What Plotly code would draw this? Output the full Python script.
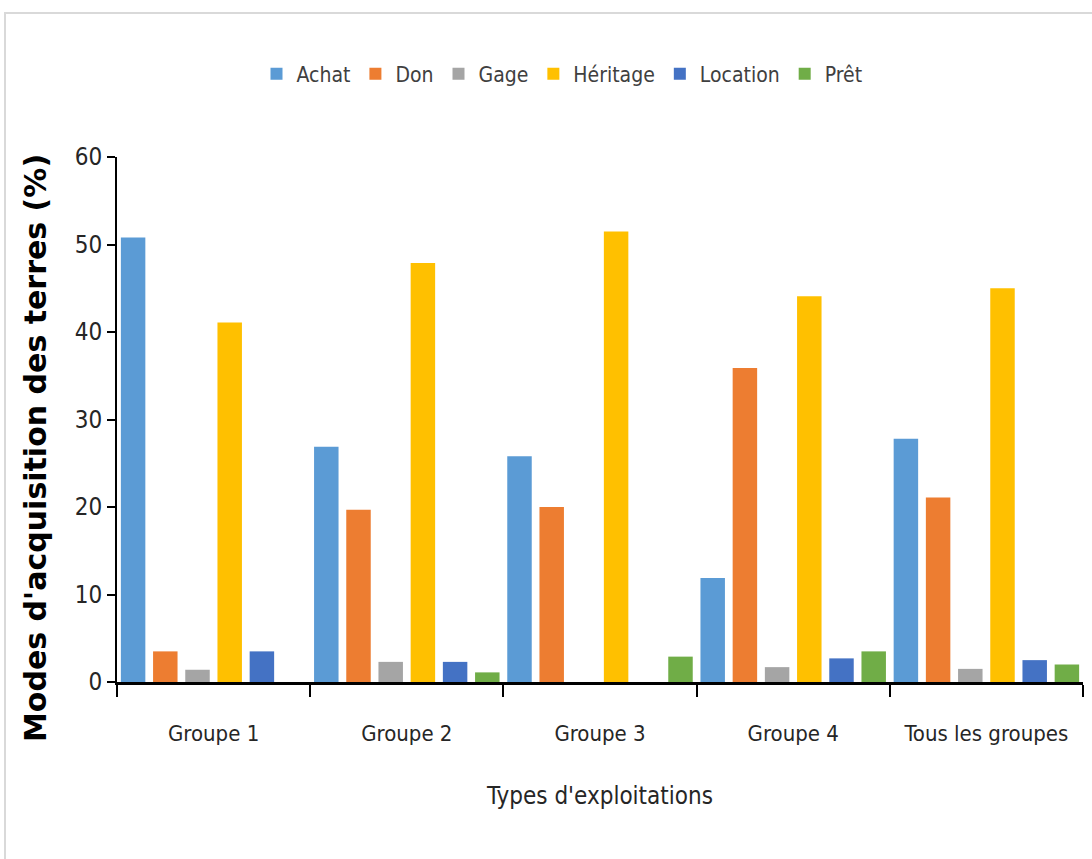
import plotly.graph_objects as go

# Types d'exploitations (x categories)
groupes = ["Groupe 1", "Groupe 2", "Groupe 3", "Groupe 4", "Tous les groupes"]

# Modes d'acquisition des terres (%), one list per mode
achat = [50.8, 26.9, 25.8, 11.9, 27.8]
don = [3.5, 19.7, 20.0, 35.9, 21.1]
gage = [1.4, 2.3, 0.0, 1.7, 1.5]
heritage = [41.1, 47.9, 51.5, 44.1, 45.0]
location = [3.5, 2.3, 0.0, 2.7, 2.5]
pret = [0.0, 1.1, 2.9, 3.5, 2.0]

series = [
    ("Achat", achat, "#5B9BD5"),
    ("Don", don, "#ED7D31"),
    ("Gage", gage, "#A5A5A5"),
    ("Héritage", heritage, "#FFC000"),
    ("Location", location, "#4472C4"),
    ("Prêt", pret, "#70AD47"),
]

NARROW = "DejaVu Sans Condensed, Liberation Sans Narrow, Arial Narrow, sans-serif"

fig = go.Figure()
for name, vals, color in series:
    fig.add_trace(go.Bar(name=name, x=groupes, y=vals, marker_color=color,
                         marker_line_width=0))

W, H = 1092, 859
L, R, T, B = 117, 1083, 157, 682


def px_x(p):
    return (p - L) / (R - L)


def px_y(p):
    return (B - p) / (B - T)


fig.update_layout(
    width=W, height=H,
    margin=dict(l=L, r=W - R, t=T, b=H - B),
    paper_bgcolor="white", plot_bgcolor="white",
    barmode="group", bargap=0.0, bargroupgap=0.24,
    font=dict(family=NARROW, color="#404040"),
    showlegend=True,
    legend=dict(orientation="h", x=px_x(562), xanchor="center",
                y=px_y(74), yanchor="middle",
                font=dict(size=21, family=NARROW, color="#404040"),
                itemwidth=30, traceorder="normal"),
    xaxis=dict(showline=True, linecolor="black", linewidth=3,
               ticks="outside", tickson="boundaries", ticklen=12,
               tickwidth=2, tickcolor="black", ticklabelstandoff=30,
               tickfont=dict(size=22, family=NARROW, color="#262626"),
               title=dict(text="Types d'exploitations", standoff=42,
                          font=dict(size=24, family=NARROW, color="#262626")),
               showgrid=False, zeroline=False),
    yaxis=dict(range=[0, 60], dtick=10, showline=True, linecolor="black",
               linewidth=2, ticks="outside", ticklen=8, tickwidth=2,
               tickcolor="black",
               tickfont=dict(size=24, family=NARROW, color="#262626"),
               showgrid=False, zeroline=False),
    shapes=[dict(type="rect", xref="paper", yref="paper",
                 x0=px_x(5), x1=px_x(1100), y0=px_y(880), y1=px_y(13),
                 line=dict(color="#d9d9d9", width=2), fillcolor="rgba(0,0,0,0)",
                 layer="below")],
    annotations=[dict(text="Modes d'acquisition des terres (%)",
                      xref="paper", yref="paper", x=px_x(35), y=px_y(448),
                      textangle=-90, showarrow=False,
                      xanchor="center", yanchor="middle",
                      font=dict(size=30, family="DejaVu Sans", color="black",
                                weight="bold"))],
)

fig.write_html("out.html")
